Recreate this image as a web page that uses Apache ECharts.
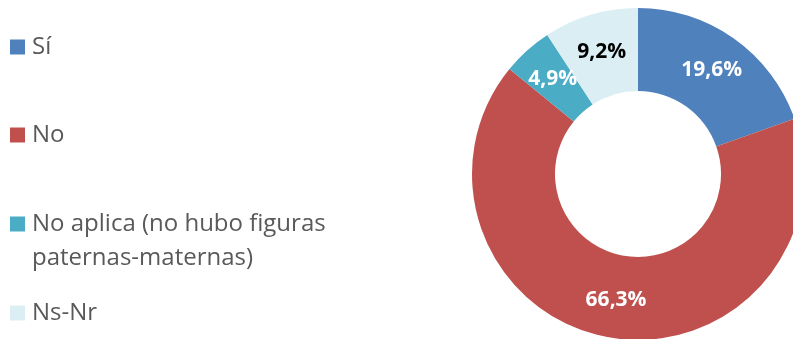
<!DOCTYPE html>
<html>
<head>
<meta charset="utf-8">
<script src="https://cdn.jsdelivr.net/npm/echarts@6/dist/echarts.min.js"></script>
<style>
  html, body { margin: 0; padding: 0; background: #fff; }
  #chart { width: 793px; height: 339px; }
</style>
</head>
<body>
<div id="chart"></div>
<script>
// Answer categories and their shares (%)
const categories = ['Sí', 'No', 'No aplica (no hubo figuras\npaternas-maternas)', 'Ns-Nr'];
const shares = [19.6, 66.3, 4.9, 9.2];
const sliceColors = ['#4F81BD', '#C0504D', '#4BACC6', '#DAEEF3'];
const labelColors = ['#ffffff', '#ffffff', '#ffffff', '#000000'];

// Legend entries are stacked by hand; a wrapped name gets an empty line
// above it so that the colour box sits beside its first line.
const LINE_H = 34;
const legendCentres = [47, 135, 224, 313];

const fmt = v => v.toFixed(1).replace('.', ',') + '%';

const chart = echarts.init(document.getElementById('chart'), null, { renderer: 'canvas' });

const legends = categories.map((name, i) => {
  const lines = name.split('\n').length;
  const blockLines = lines > 1 ? lines * 2 - 1 : 1;
  return {
    orient: 'vertical',
    left: 10,
    top: legendCentres[i] - (blockLines * LINE_H) / 2,
    padding: 0,
    itemWidth: 15,
    itemHeight: 15,
    itemGap: 0,
    icon: 'rect',
    selectedMode: false,
    data: [name],
    formatter: n => {
      const parts = n.split('\n');
      if (parts.length === 1) return n;
      return new Array(parts.length - 1).fill(' ').concat(parts).join('\n');
    },
    textStyle: {
      fontFamily: 'Open Sans',
      fontSize: 24,
      color: '#595959',
      lineHeight: LINE_H,
      padding: [0, 0, 0, 2]
    }
  };
});

chart.setOption({
  animation: false,
  color: sliceColors,
  legend: legends,
  series: [{
    type: 'pie',
    center: [638, 174],
    radius: [83, 166],
    startAngle: 90,
    clockwise: true,
    avoidLabelOverlap: false,
    emphasis: { disabled: true },
    label: {
      show: true,
      position: 'inside',
      fontFamily: 'Open Sans',
      fontWeight: 'bold',
      fontSize: 21,
      formatter: p => fmt(p.value)
    },
    labelLine: { show: false },
    data: categories.map((name, i) => ({
      name,
      value: shares[i],
      label: { color: labelColors[i] }
    }))
  }]
});
</script>
</body>
</html>
